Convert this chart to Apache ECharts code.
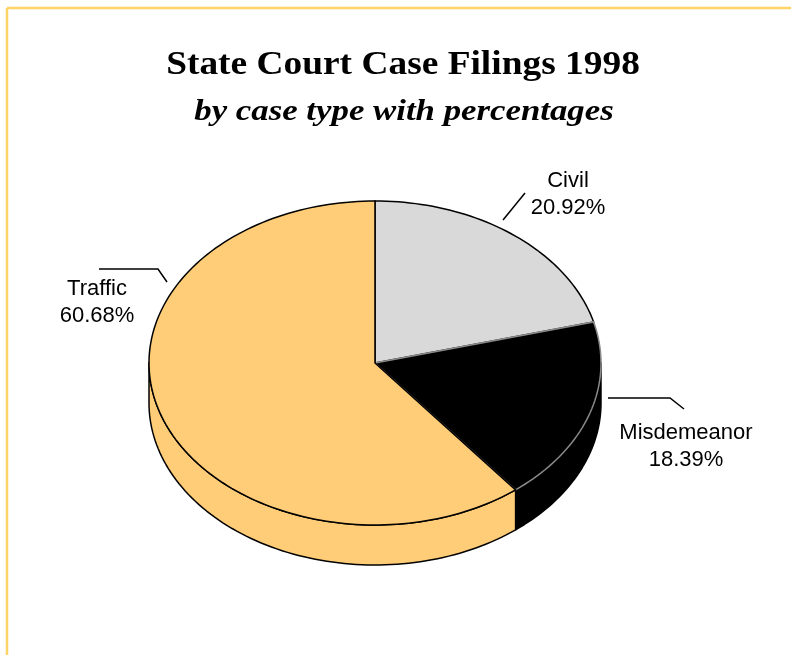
<!DOCTYPE html>
<html>
<head>
<meta charset="utf-8">
<script src="https://cdn.jsdelivr.net/npm/echarts@6/dist/echarts.min.js"></script>
<style>
  html, body { margin: 0; padding: 0; background: #fff; }
  #chart { width: 791px; height: 655px; }
</style>
</head>
<body>
<div id="chart"></div>
<script>
// data
var categories = ['Civil', 'Misdemeanor', 'Traffic'];
var percents = [20.92, 18.39, 60.68];
var titleText = 'State Court Case Filings 1998';
var subText = 'by case type with percentages';

// look
var sliceColors = ['#D9D9D9', '#000000', '#FFCC77'];
var edgeColors = ['#000000', '#8a8a8a', '#000000'];
var labelAt = [[568, 194], [686, 446], [97, 302]];
var leaders = [
  [[503, 220], [525, 193]],
  [[608, 398], [670, 398], [684, 409]],
  [[99, 269], [158, 269], [167, 282]]
];

var cx = 375, cy = 363, rx = 226, ry = 162, depth = 40;

var total = percents.reduce(function (a, b) { return a + b; }, 0);

function pt(deg, dy) {
  var t = deg * Math.PI / 180;
  return [cx + rx * Math.cos(t), cy + ry * Math.sin(t) + (dy || 0)];
}
function arc(a0, a1, dy) {
  var pts = [];
  var n = Math.max(2, Math.ceil(Math.abs(a1 - a0) / 1.5));
  for (var i = 0; i <= n; i++) pts.push(pt(a0 + (a1 - a0) * i / n, dy));
  return pts;
}

var myChart = echarts.init(document.getElementById('chart'), null, { renderer: 'canvas' });

var option = {
  backgroundColor: '#ffffff',
  animation: false,
  graphic: [
    { type: 'line', shape: { x1: 7, y1: 8, x2: 791, y2: 8 }, style: { stroke: '#FFD466', lineWidth: 2.5 } },
    { type: 'line', shape: { x1: 7, y1: 8, x2: 7, y2: 655 }, style: { stroke: '#FFD466', lineWidth: 2.5 } },
    {
      type: 'text', x: 403, y: 65, scaleX: 1.1,
      style: {
        text: titleText, fontFamily: 'Liberation Serif', fontWeight: 'bold', fontSize: 34,
        align: 'center', verticalAlign: 'middle', fill: '#000'
      }
    },
    {
      type: 'text', x: 404, y: 113, scaleX: 1.2,
      style: {
        text: subText, fontFamily: 'Liberation Serif', fontWeight: 'bold', fontStyle: 'italic', fontSize: 29,
        align: 'center', verticalAlign: 'middle', fill: '#000'
      }
    }
  ],
  series: [{
    type: 'custom',
    coordinateSystem: 'none',
    data: categories.map(function (c, i) { return [c, percents[i]]; }),
    renderItem: function (params, api) {
      var i = params.dataIndex;
      var before = 0;
      for (var k = 0; k < i; k++) before += percents[k];
      var a0 = -90 + before / total * 360;
      var a1 = a0 + api.value(1) / total * 360;
      var children = [];

      // visible front wall (0..180 deg, screen angles)
      [[0, 180], [360, 540]].forEach(function (r) {
        var lo = Math.max(a0, r[0]), hi = Math.min(a1, r[1]);
        if (hi > lo) {
          var pts = arc(lo, hi, 0).concat(arc(hi, lo, depth));
          children.push({
            type: 'polygon', z2: 1,
            shape: { points: pts },
            style: { fill: sliceColors[i], stroke: '#000', lineWidth: 1.5, lineJoin: 'round' }
          });
        }
      });

      // top face
      children.push({
        type: 'polygon', z2: 10 + i,
        shape: { points: [[cx, cy]].concat(arc(a0, a1, 0)) },
        style: { fill: sliceColors[i], stroke: edgeColors[i], lineWidth: 1.5, lineJoin: 'miter' }
      });

      children.push({
        type: 'polyline', z2: 20,
        shape: { points: leaders[i] },
        style: { stroke: '#000', lineWidth: 1.5, fill: null }
      });
      children.push({
        type: 'text', z2: 20,
        x: labelAt[i][0], y: labelAt[i][1],
        style: {
          text: api.value(0) + '\n' + api.value(1).toFixed(2) + '%',
          fontFamily: 'Liberation Sans',
          fontSize: 22,
          lineHeight: 27,
          align: 'center',
          verticalAlign: 'middle',
          fill: '#000'
        }
      });
      return { type: 'group', children: children };
    }
  }]
};

option && myChart.setOption(option);
</script>
</body>
</html>
